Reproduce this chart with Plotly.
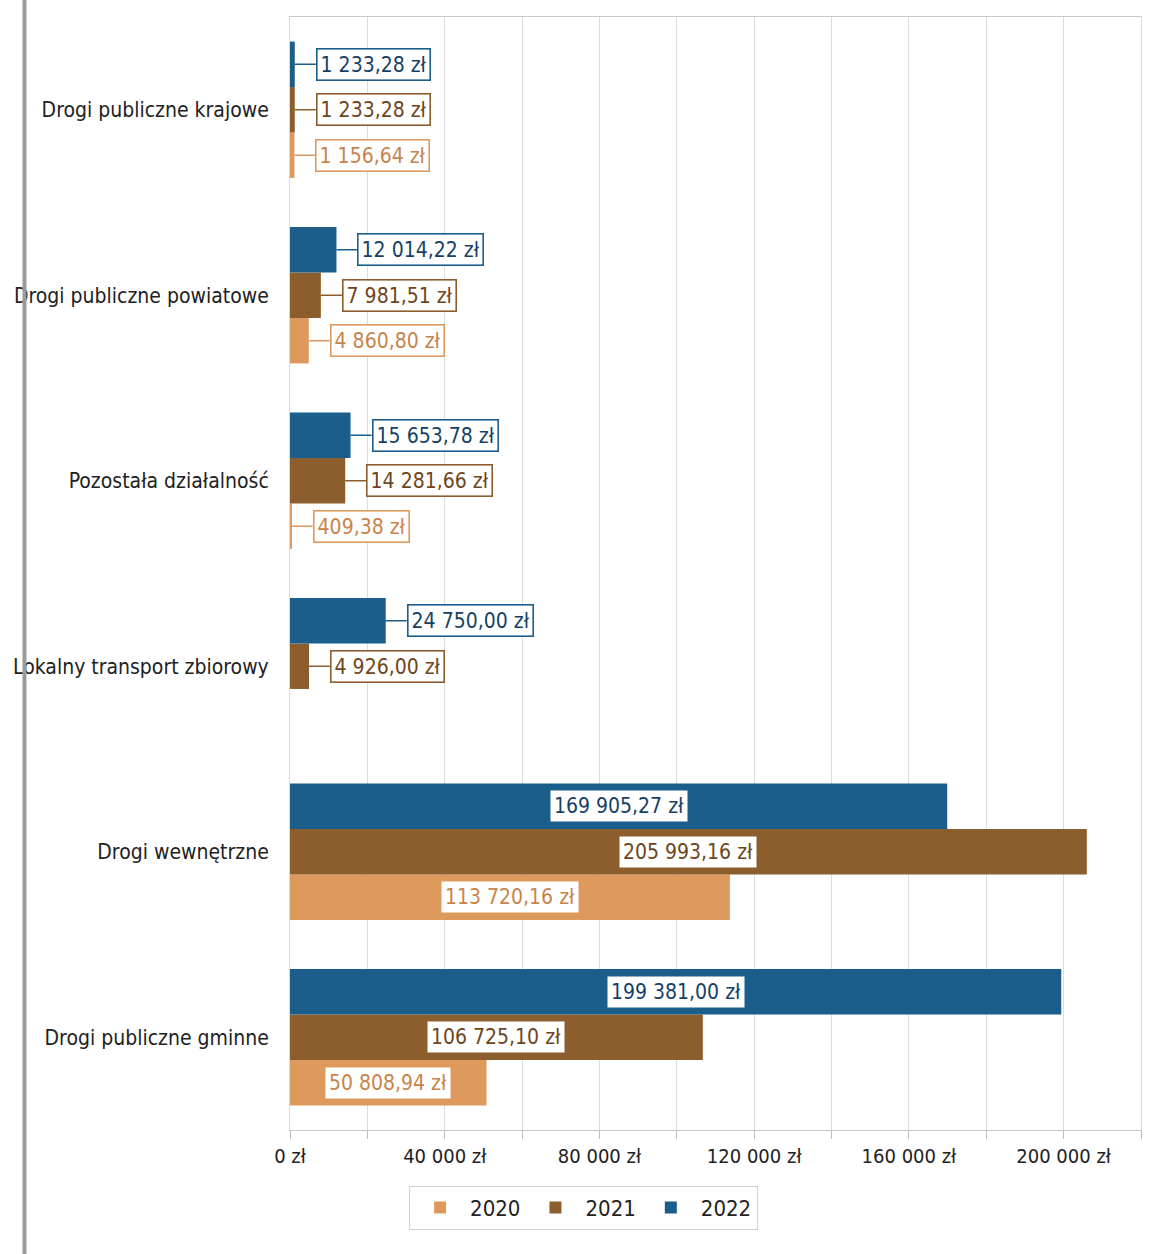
import plotly.graph_objects as go

categories = [
    "Drogi publiczne krajowe",
    "Drogi publiczne powiatowe",
    "Pozostała działalność",
    "Lokalny transport zbiorowy",
    "Drogi wewnętrzne",
    "Drogi publiczne gminne",
]
years = ["2020", "2021", "2022"]
values_2020 = [1156.64, 4860.80, 409.38, None, 113720.16, 50808.94]
values_2021 = [1233.28, 7981.51, 14281.66, 4926.00, 205993.16, 106725.10]
values_2022 = [1233.28, 12014.22, 15653.78, 24750.00, 169905.27, 199381.00]
tick_values = [0, 40000, 80000, 120000, 160000, 200000]
tick_labels = ["0 zł", "40 000 zł", "80 000 zł", "120 000 zł", "160 000 zł", "200 000 zł"]

series = [values_2020, values_2021, values_2022]
bar_colors = ["#DD9A5C", "#8C5E2E", "#1B5E8C"]
text_colors = ["#C8844A", "#6E4520", "#173F66"]

FONT = "DejaVu Sans Condensed, DejaVu Sans, sans-serif"


def fmt(v):
    s = f"{v:,.2f}".replace(",", " ").replace(".", ",")
    return s + " zł"


# bottom-to-top category order so 2022 ends up on top inside each group
cat_order = list(reversed(categories))

fig = go.Figure()
for yr, vals, col in zip(years, series, bar_colors):
    fig.add_trace(go.Bar(
        name=yr,
        y=categories,
        x=vals,
        orientation="h",
        marker=dict(color=col, line=dict(width=0)),
        hoverinfo="x+y",
    ))

bargap = 0.265
bw = (1 - bargap) / 3
annotations = []
for i, (vals, tcol, bcol) in enumerate(zip(series, text_colors, bar_colors)):
    off = -(1 - bargap) / 2 + bw / 2 + i * bw
    for cat, v in zip(categories, vals):
        if v is None:
            continue
        ypos = cat_order.index(cat) + off
        if v < 40000:
            annotations.append(dict(
                x=v, y=ypos, xref="x", yref="y",
                text=fmt(v), showarrow=True, arrowhead=0, arrowwidth=1.6,
                arrowcolor=bcol, ax=21, ay=0, xanchor="left", standoff=0,
                bgcolor="white", bordercolor=bcol, borderwidth=1.6, borderpad=3,
                font=dict(family=FONT, size=21, color=tcol),
            ))
        else:
            annotations.append(dict(
                x=v / 2, y=ypos, xref="x", yref="y",
                text=fmt(v), showarrow=False, xanchor="center",
                bgcolor="white", borderpad=3,
                font=dict(family=FONT, size=21, color=tcol),
            ))

fig.update_layout(
    width=1170, height=1254,
    margin=dict(l=290, r=29, t=17, b=124),
    barmode="group", bargap=bargap, bargroupgap=0,
    paper_bgcolor="white", plot_bgcolor="white",
    font=dict(family=FONT, size=20, color="#222"),
    annotations=annotations,
    showlegend=True,
    legend=dict(
        orientation="h", x=0.345, xanchor="center", y=-0.05, yanchor="top",
        bordercolor="#d0d0d0", borderwidth=1, bgcolor="white",
        font=dict(family=FONT, size=22, color="#222"),
        itemwidth=50, traceorder="normal",
    ),
    shapes=[dict(type="line", xref="paper", yref="paper",
                 x0=-0.312, x1=-0.312, y0=-0.12, y1=1.02,
                 line=dict(color="#9a9a9a", width=4))],
)
fig.update_xaxes(
    range=[0, 220000],
    tickvals=tick_values, ticktext=tick_labels,
    showgrid=True, gridcolor="#dcdcdc", gridwidth=1,
    ticks="outside", ticklen=8, tickcolor="#bbbbbb",
    showline=True, linecolor="#c8c8c8", linewidth=1, mirror=True,
    zeroline=False,
    tickfont=dict(family=FONT, size=20, color="#222"),
    minor=dict(dtick=20000, tick0=0, showgrid=True, gridcolor="#dcdcdc",
               ticks="outside", ticklen=8, tickcolor="#bbbbbb"),
)
fig.update_yaxes(
    categoryorder="array", categoryarray=cat_order,
    showgrid=False, zeroline=False,
    showline=True, linecolor="#dcdcdc", linewidth=1, mirror=True,
    ticks="", ticklabelstandoff=16,
    tickfont=dict(family=FONT, size=21, color="#222"),
)

fig.write_html("out.html", config={"displayModeBar": False},
               post_script="document.body.style.margin='0';")
